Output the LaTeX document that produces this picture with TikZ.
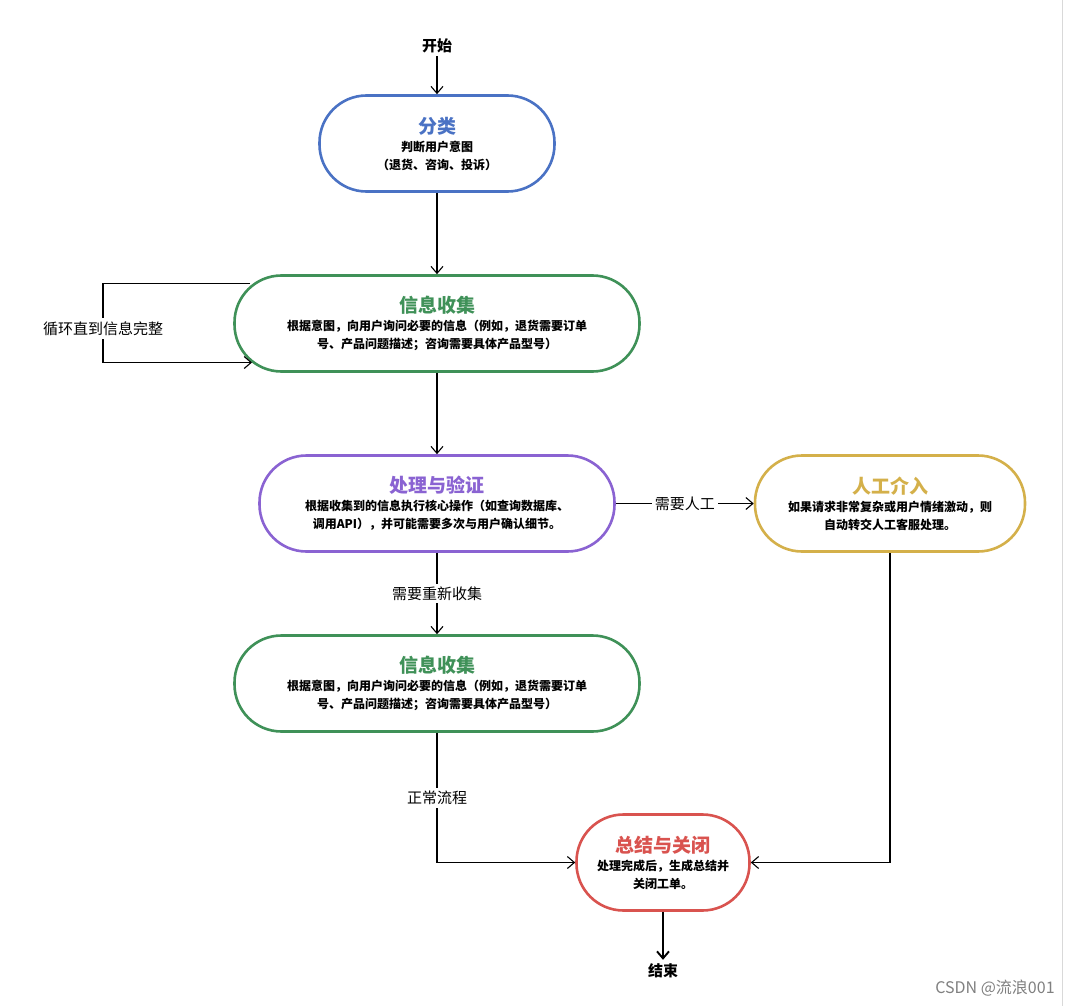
\documentclass[tikz,border=0pt]{standalone}
\usepackage{fontspec}
\setmainfont{Noto Sans CJK SC}
\usetikzlibrary{arrows.meta}
\definecolor{cblue}{HTML}{4A72C4}
\definecolor{cgreen}{HTML}{3F9158}
\definecolor{cpurple}{HTML}{8A63D2}
\definecolor{cgold}{HTML}{D4B04A}
\definecolor{cred}{HTML}{D9534F}
\tikzset{
 box/.style={draw=#1,line width=2.6pt,rounded corners=47pt,minimum height=96pt,align=center,font=\bfseries\fontsize{12}{18}\selectfont,inner sep=0pt},
 arr/.style={-{Straight Barb[length=7pt,width=12pt]},line width=1.1pt},
 lbl/.style={fill=white,font=\fontsize{15}{17}\selectfont,inner sep=3pt},
 term/.style={font=\bfseries\fontsize{15}{17}\selectfont}
}
\newcommand{\ttlx}[2]{\textcolor{#1}{\fontsize{19}{27}\selectfont #2}}
\begin{document}
\begin{tikzpicture}[x=1pt,y=-1pt]
\fill[white] (0,0) rectangle (1077,1005);
\draw[gray!30,line width=1pt] (1062,0) -- (1062,1005);
\node[term] (start) at (437,45) {开始};
\node[box=cblue,minimum width=235pt] (fl) at (437,143) {\ttlx{cblue}{分类}\\判断用户意图\\（退货、咨询、投诉）};
\node[box=cgreen,minimum width=405pt] (c1) at (437,323) {\ttlx{cgreen}{信息收集}\\根据意图，向用户询问必要的信息（例如，退货需要订单\\号、产品问题描述；咨询需要具体产品型号）};
\node[box=cpurple,minimum width=355pt] (cl) at (437,503) {\ttlx{cpurple}{处理与验证}\\根据收集到的信息执行核心操作（如查询数据库、\\调用API），并可能需要多次与用户确认细节。};
\node[box=cgold,minimum width=270pt] (rg) at (890,503) {\ttlx{cgold}{人工介入}\\如果请求非常复杂或用户情绪激动，则\\自动转交人工客服处理。};
\node[box=cgreen,minimum width=405pt] (c2) at (437,683) {\ttlx{cgreen}{信息收集}\\根据意图，向用户询问必要的信息（例如，退货需要订单\\号、产品问题描述；咨询需要具体产品型号）};
\node[box=cred,minimum width=173pt] (zj) at (663,862) {\ttlx{cred}{总结与关闭}\\处理完成后，生成总结并\\关闭工单。};
\node[term] (end) at (663,970) {结束};
\node[gray,font=\fontsize{16}{18}\selectfont] (wm) at (995,988) {CSDN @流浪001};

\draw[arr] (start) -- (fl);
\draw[arr] (fl) -- (c1);
\coordinate (la) at (103,283);
\coordinate (lb) at (103,362);
\draw[arr] (250,283) -- (la) -- (lb) -- (252,362);
\node[lbl] (l1) at (103,328) {循环直到信息完整};
\draw[arr] (c1) -- (cl);
\draw[arr] (cl) -- node[lbl] (l2) {需要人工} (rg);
\draw[arr] (cl) -- node[lbl] (l3) {需要重新收集} (c2);
\coordinate (p1) at (437,862);
\coordinate (p2) at (890,862);
\draw[arr] (c2) -- node[lbl,pos=0.5] (l4) {正常流程} (p1) -- (zj);
\draw[arr] (rg) -- (p2) -- (zj);
\draw[arr,line width=1.9pt] (zj) -- (end);
\end{tikzpicture}
\end{document}
